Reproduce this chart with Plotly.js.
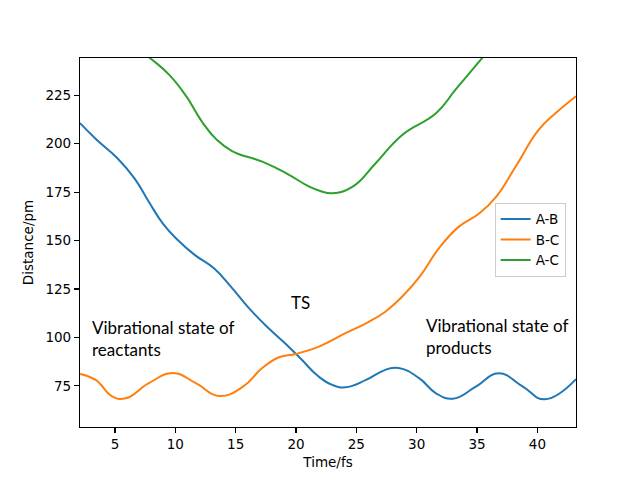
<!DOCTYPE html>
<html>
<head>
<meta charset="utf-8">
<script src="https://cdn.plot.ly/plotly-3.0.1.min.js"></script>
<style>
  body { margin: 0; background: #fff; }
  #graph { width: 640px; height: 480px; }
</style>
</head>
<body>
<div id="graph"></div>
<script>
// values (time in fs, distance in pm)
var abTime = [2.1, 3.5, 5.2, 6.6, 7.8, 9.0, 10.2, 11.6, 13.2, 14.6, 16.1, 17.6, 19.0, 20.4, 21.8, 23.0, 24.1, 25.8, 27.4, 28.5, 30.2, 31.6, 33.0, 34.9, 36.8, 38.8, 40.6, 43.2];
var abDist = [210.6, 201.9, 192.5, 182.2, 170, 158.5, 150.3, 142.6, 135.7, 126.2, 115.1, 105.5, 97.5, 89, 80.2, 75.5, 74.3, 78.1, 83.3, 84.3, 79, 71.2, 68.4, 74.6, 81.5, 74.6, 68.1, 78.5];

var bcTime = [2.1, 3.4, 4.8, 5.9, 7.8, 9.8, 11.7, 13.6, 15.6, 17.2, 18.6, 20.0, 21.9, 24.1, 25.8, 27.4, 28.8, 30.2, 31.9, 33.5, 35.2, 36.6, 38.2, 40.1, 41.5, 43.2];
var bcDist = [81.2, 78.1, 69.5, 68.6, 76.4, 81.6, 76.4, 69.8, 74.6, 84.2, 89.8, 91.5, 95.3, 102.2, 107.3, 113.3, 121.1, 131.0, 146.5, 157.2, 164.1, 172.7, 188.2, 207.1, 215.7, 224.5];

var acTime = [2.1, 5.0, 8.0, 9.5, 10.9, 12.2, 13.4, 14.7, 17.2, 19.2, 21.1, 22.0, 23.0, 24.7, 26.6, 28.8, 31.6, 33.2, 35.4, 37.0];
var acDist = [272, 258, 243.7, 235.5, 224.5, 211.4, 202.2, 196.2, 190.7, 184.7, 177.8, 175.6, 174.4, 177.8, 189.9, 204.5, 215.7, 227.7, 244, 256];

var seriesNames = ['A-B', 'B-C', 'A-C'];
var seriesColors = ['#1f77b4', '#ff7f0e', '#2ca02c'];

var notes = [
  {x: 19.45, y: 111.5, text: 'TS'},
  {x: 2.9, y: 87.5, text: 'Vibrational state of<br>reactants'},
  {x: 30.6, y: 88.5, text: 'Vibrational state of<br>products'}
];

var xs = [abTime, bcTime, acTime];
var ys = [abDist, bcDist, acDist];

var data = xs.map(function (x, i) {
  return {
    x: x,
    y: ys[i],
    name: seriesNames[i],
    mode: 'lines',
    type: 'scatter',
    line: {color: seriesColors[i], width: 2, shape: 'spline', smoothing: 1.3},
    cliponaxis: true
  };
});

var tickFont = {family: 'DejaVu Sans', size: 13.5, color: '#000'};

var axisBase = {
  showline: true,
  mirror: true,
  linecolor: '#000',
  linewidth: 1.1,
  ticks: 'outside',
  ticklen: 5,
  tickwidth: 1.1,
  tickcolor: '#000',
  showgrid: false,
  zeroline: false,
  tickfont: tickFont
};

var layout = {
  width: 640,
  height: 480,
  margin: {l: 80, r: 64, t: 58, b: 53},
  paper_bgcolor: '#fff',
  plot_bgcolor: '#fff',
  showlegend: true,
  legend: {
    x: 0.836, y: 0.608, xanchor: 'left', yanchor: 'top',
    bgcolor: 'rgba(255,255,255,0.8)',
    bordercolor: '#cccccc', borderwidth: 1,
    font: {family: 'DejaVu Sans', size: 13.5, color: '#000'},
    tracegroupgap: 0,
    itemwidth: 30
  },
  xaxis: Object.assign({}, axisBase, {
    range: [2.1, 43.2],
    tick0: 0, dtick: 5,
    title: {text: 'Time/fs', font: {family: 'DejaVu Sans', size: 13.5, color: '#000'}, standoff: 6}
  }),
  yaxis: Object.assign({}, axisBase, {
    range: [53.8, 244.2],
    tick0: 0, dtick: 25,
    title: {text: 'Distance/pm', font: {family: 'DejaVu Sans', size: 13.5, color: '#000'}, standoff: 8}
  }),
  annotations: notes.map(function (n) {
    return {
      x: n.x, y: n.y, xref: 'x', yref: 'y',
      text: n.text, showarrow: false,
      xanchor: 'left', yanchor: 'bottom', align: 'left',
      font: {family: 'Lato', size: 17, color: '#000'}
    };
  })
};

Plotly.newPlot('graph', data, layout, {displayModeBar: false, staticPlot: true});
</script>
</body>
</html>
